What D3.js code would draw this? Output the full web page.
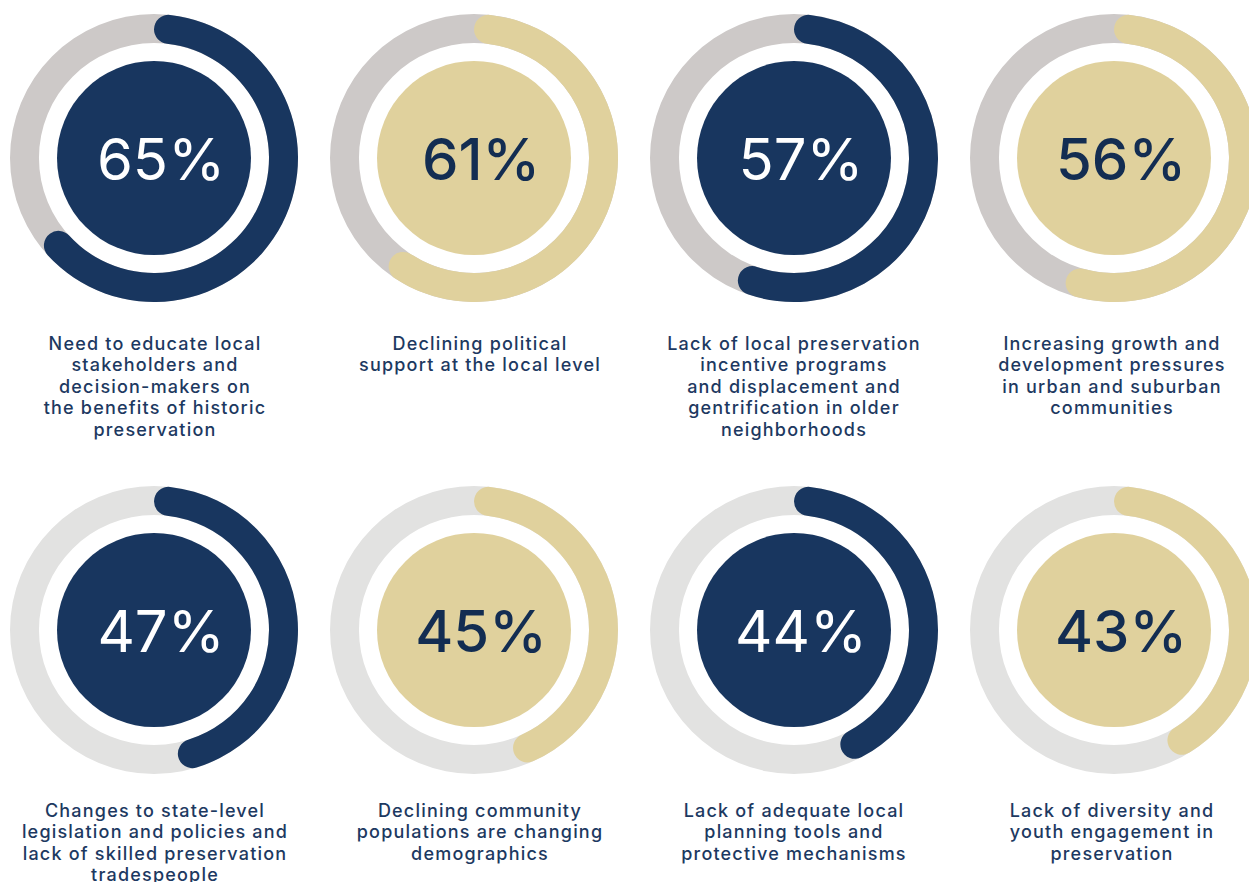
<!DOCTYPE html>
<html>
<head>
<meta charset="utf-8">
<script src="https://cdn.jsdelivr.net/npm/d3@7"></script>
<style>
  html, body { margin: 0; padding: 0; background: #ffffff; }
  svg { display: block; }
</style>
</head>
<body>
<svg id="chart" width="1249" height="882"></svg>
<script>
// ---- data ----
const categories = [
  ["Need to educate local", "stakeholders and", "decision-makers on", "the benefits of historic", "preservation"],
  ["Declining political", "support at the local level"],
  ["Lack of local preservation", "incentive programs", "and displacement and", "gentrification in older", "neighborhoods"],
  ["Increasing growth and", "development pressures", "in urban and suburban", "communities"],
  ["Changes to state-level", "legislation and policies and", "lack of skilled preservation", "tradespeople"],
  ["Declining community", "populations are changing", "demographics"],
  ["Lack of adequate local", "planning tools and", "protective mechanisms"],
  ["Lack of diversity and", "youth engagement in", "preservation"]
];
const values = [65, 61, 57, 56, 47, 45, 44, 43];
const valueLabels = ["65%", "61%", "57%", "56%", "47%", "45%", "44%", "43%"];
const themes = ["navy", "gold", "navy", "gold", "navy", "gold", "navy", "gold"];

// ---- styles ----
const NAVY = "#18365f";
const GOLD = "#e0d19d";
const TRACK = ["#cdc9c8", "#e2e2e1"];
const LABEL = "#1d3961";

const colCx = [154, 474, 794, 1114];
const labelCx = [155, 480, 794, 1112];
const rowCy = [158, 630];
const labelY0 = [344, 811];
const lineH = 21.4;

const R_OUT = 144, R_IN = 115, R_DISK = 97;

const svg = d3.select("#chart");
const angle = d3.scaleLinear().domain([0, 100]).range([0, 2 * Math.PI]);

const trackArc = d3.arc().innerRadius(R_IN).outerRadius(R_OUT).startAngle(0).endAngle(2 * Math.PI);
const valueArc = d3.arc().innerRadius(R_IN).outerRadius(R_OUT)
  .cornerRadius((R_OUT - R_IN) / 2)
  .startAngle(0).endAngle(d => angle(d));

values.forEach((v, i) => {
  const col = i % 4, row = Math.floor(i / 4);
  const cx = colCx[col], cy = rowCy[row];
  const fill = themes[i] === "navy" ? NAVY : GOLD;
  const g = svg.append("g").attr("transform", `translate(${cx},${cy})`);
  g.append("path").attr("d", trackArc()).attr("fill", TRACK[row]);
  g.append("path").attr("d", valueArc(v)).attr("fill", fill);
  g.append("circle").attr("r", R_DISK).attr("fill", fill);
  g.append("text")
    .attr("x", 7).attr("y", 22)
    .attr("text-anchor", "middle")
    .attr("font-family", "Inter, 'Noto Sans', sans-serif")
    .attr("font-weight", themes[i] === "navy" ? 400 : 500)
    .attr("font-size", 58)
    .attr("fill", themes[i] === "navy" ? "#ffffff" : "#132d52")
    .text(valueLabels[i]);

  const t = svg.append("text")
    .attr("text-anchor", "middle")
    .attr("font-family", "Inter, 'Noto Sans', sans-serif")
    .attr("font-weight", 500)
    .attr("font-size", 18)
    .attr("letter-spacing", 1.2)
    .attr("fill", LABEL);
  categories[i].forEach((line, k) => {
    t.append("tspan")
      .attr("x", labelCx[col])
      .attr("y", labelY0[row] + 6 + k * lineH)
      .text(line);
  });
});
</script>
</body>
</html>
